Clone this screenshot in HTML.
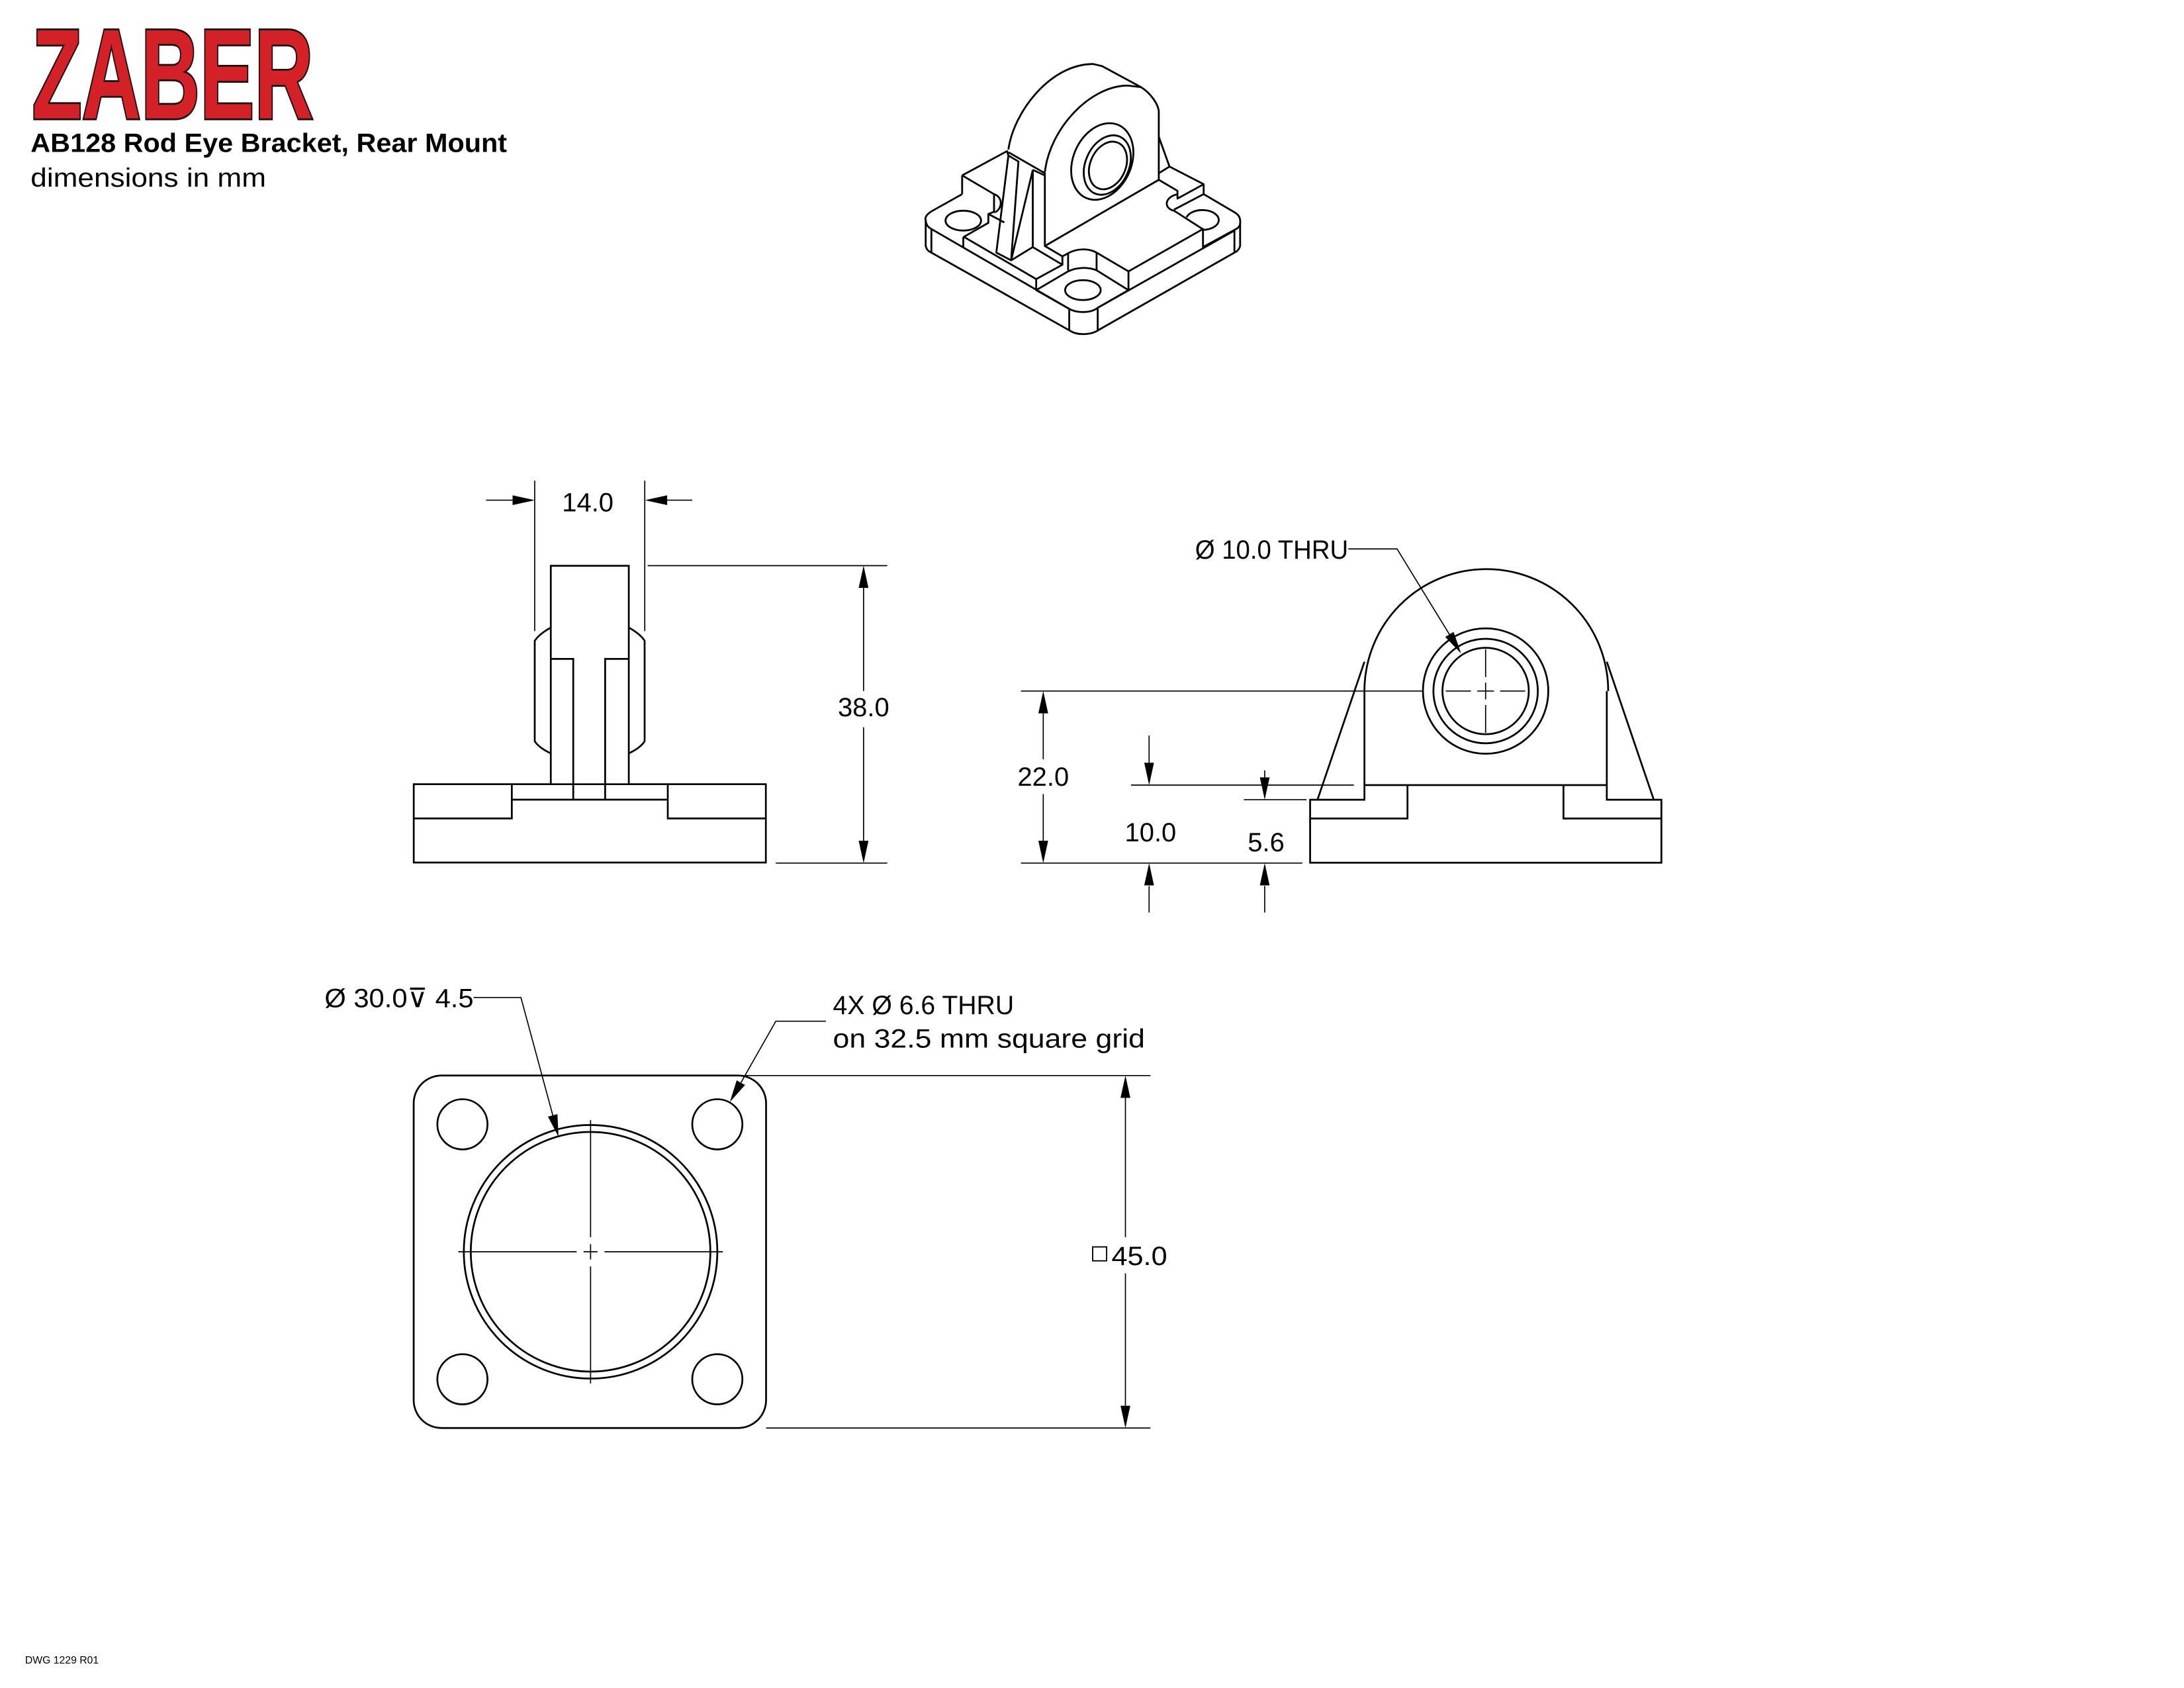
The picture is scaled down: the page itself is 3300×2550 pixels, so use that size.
<!DOCTYPE html>
<html><head><meta charset="utf-8"><style>
html,body{margin:0;padding:0;background:#fff;}
svg{display:block;}
text{font-family:"Liberation Sans",sans-serif;fill:#000;}
</style></head><body>
<svg xmlns="http://www.w3.org/2000/svg" width="3300" height="2550" viewBox="0 0 1568 1211.6">
<rect width="1568" height="1211.6" fill="#fff"/>
<!-- Logo & title -->
<text x="23" y="85" font-size="92" font-weight="bold" textLength="202" lengthAdjust="spacingAndGlyphs" style="fill:#d42027;stroke:#111;stroke-width:2.6;paint-order:stroke">ZABER</text>
<text x="22" y="109" font-size="19" font-weight="bold" textLength="342" lengthAdjust="spacingAndGlyphs">AB128 Rod Eye Bracket, Rear Mount</text>
<text x="22" y="134" font-size="19" textLength="169" lengthAdjust="spacingAndGlyphs">dimensions in mm</text>
<text x="18" y="1194" font-size="7.5">DWG 1229 R01</text>

<!-- Isometric view -->
<g transform="translate(655.6,28.5) scale(0.16359,0.15835)" fill="none" stroke="#000" stroke-width="2.8" stroke-linejoin="round">
<path vector-effect="non-scaling-stroke" d="M418,498 C440,330 600,110 790,110 L830,120 L1000,215 C1040,240 1075,290 1078,325 L1078,635"/>
<path vector-effect="non-scaling-stroke" d="M578,600 C600,400 780,205 945,208 L1000,215"/>
<path vector-effect="non-scaling-stroke" d="M418,510 L578,605 L578,935 L1078,635"/>
<path vector-effect="non-scaling-stroke" d="M1078,440 L1125,575 L1078,605"/>
<path vector-effect="non-scaling-stroke" d="M1078,635 L1160,685 L1160,720 L1275,655 L1125,575"/>
<path vector-effect="non-scaling-stroke" d="M1275,655 L1275,700 L1145,770 M1160,700 C1100,715 1100,765 1145,775 L1270,858"/>
<path vector-effect="non-scaling-stroke" d="M1275,700 L1410,782 C1432,795 1437,810 1435,835 C1432,850 1422,856 1410,862 L1272,940 L1272,858 L945,1050"/>
<path vector-effect="non-scaling-stroke" d="M1200,805 A72,45 0 1 1 1275,862"/>
<path vector-effect="non-scaling-stroke" d="M1435,835 L1435,935 C1430,952 1422,960 1410,965 L815,1315 C780,1340 720,1340 690,1320 L80,965 C68,960 58,950 55,935 L55,815"/>
<path vector-effect="non-scaling-stroke" d="M1410,862 L1410,965 M810,1215 L1410,865"/>
<path vector-effect="non-scaling-stroke" d="M685,1220 C720,1240 780,1240 810,1215 M685,1220 L685,1318 M810,1215 L810,1315"/>
<path vector-effect="non-scaling-stroke" d="M215,700 L85,775 C60,790 50,805 55,820 C58,840 65,850 80,858 L685,1220 M80,858 L80,965"/>
<path vector-effect="non-scaling-stroke" d="M220,895 L220,942 M220,895 L330,830 L330,790 L400,828 M225,895 L540,1085"/>
<ellipse vector-effect="non-scaling-stroke" cx="220" cy="820" rx="78" ry="45"/>
<path vector-effect="non-scaling-stroke" d="M215,615 L215,700 M215,615 L412,505 L418,525 M215,615 L355,700 L355,785 M355,700 C392,712 395,762 360,782 M330,790 L355,780"/>
<path vector-effect="non-scaling-stroke" d="M418,525 L462,552 L430,1000 L365,965 Z"/>
<path vector-effect="non-scaling-stroke" d="M525,590 L430,1000 M525,590 L525,940 L430,1000 M525,590 L578,615 M525,940 L655,1020 M578,935 L655,982"/>
<path vector-effect="non-scaling-stroke" d="M540,1085 L655,1020 L655,982 L680,968 C720,945 770,945 805,965 L945,1050 L945,1135 L810,1215 M680,968 L680,1045 M805,965 L805,1045"/>
<path vector-effect="non-scaling-stroke" d="M540,1085 L540,1135 L680,1050 C720,1030 770,1030 805,1045 L945,1135 M540,1135 L685,1220"/>
<ellipse vector-effect="non-scaling-stroke" cx="745" cy="1135" rx="78" ry="45"/>
<ellipse vector-effect="non-scaling-stroke" cx="830" cy="552" rx="128" ry="180" transform="rotate(22 830 552)"/>
<ellipse vector-effect="non-scaling-stroke" cx="852" cy="568" rx="96" ry="140" transform="rotate(22 852 568)"/>
<ellipse vector-effect="non-scaling-stroke" cx="855" cy="570" rx="78" ry="112" transform="rotate(22 855 570)"/>
</g>

<!-- Side view -->
<g transform="translate(294.5,399) scale(0.16966,0.15835)" fill="none" stroke="#000" stroke-width="2.7">
<path vector-effect="non-scaling-stroke" d="M595,1035 L595,45 L925,45 L925,1035"/>
<path vector-effect="non-scaling-stroke" d="M595,325 Q545,355 527,385 L527,840 Q545,870 595,895 M925,325 Q975,355 992,385 L992,840 Q975,870 925,895"/>
<path vector-effect="non-scaling-stroke" d="M595,467 L690,467 L690,1105 M925,467 L825,467 L825,1105"/>
<path vector-effect="non-scaling-stroke" d="M15,1035 L595,1035 M925,1035 L1505,1035 M430,1035 L430,1190 L15,1190 M430,1105 L1090,1105 M1090,1035 L1090,1190 L1505,1190"/>
<rect vector-effect="non-scaling-stroke" x="15" y="1035" width="1490" height="355"/>
</g>

<!-- Front view -->
<g fill="none" stroke="#000" stroke-width="1.3">
<path d="M979.6,496 A87.5,87.5 0 0 1 1154.6,496"/>
<path d="M979.6,496 L979.6,574 L940.6,574 L940.6,619.2 L1192.8,619.2 L1192.8,574 L1153.6,574 L1153.6,496"/>
<path d="M979.6,563.5 L1153.6,563.5 M1010.5,563.5 L1010.5,587.5 L940.6,587.5 M1122.5,563.5 L1122.5,587.5 L1192.8,587.5"/>
<path d="M979.6,475 L945.9,574 M1153.6,475 L1187.3,574"/>
<circle cx="1066.6" cy="496" r="45"/>
<circle cx="1066.6" cy="496" r="37.5"/>
<circle cx="1066.6" cy="496" r="31"/>
</g>
<g stroke="#000" stroke-width="0.8" fill="none">
<path d="M1060.6,496 L1072.6,496 M1066.6,490 L1066.6,502 M1038,496 L1056,496 M1077,496 L1095,496 M1066.6,466 L1066.6,486 M1066.6,506 L1066.6,526"/>
</g>

<!-- Top view -->
<g fill="none" stroke="#000" stroke-width="1.3">
<rect x="297" y="772" width="253" height="253" rx="20"/>
<circle cx="332" cy="807" r="18"/>
<circle cx="515" cy="807" r="18"/>
<circle cx="332" cy="990" r="18"/>
<circle cx="515" cy="990" r="18"/>
<circle cx="424" cy="898.5" r="91"/>
<circle cx="424" cy="898.5" r="86"/>
</g>
<g stroke="#000" stroke-width="0.8" fill="none">
<path d="M329,898.5 L414,898.5 M419,898.5 L429,898.5 M434,898.5 L519,898.5 M424,804 L424,888 M424,893 L424,904 M424,909 L424,993"/>
</g>

<!-- Dimension lines -->
<g stroke="#000" stroke-width="0.8" fill="none">
<path d="M383.9,345 L383.9,453 M462.9,345 L462.9,453 M349,359 L368,359 M479,359 L497,359"/>
<path d="M465,406 L637,406 M557,619.5 L637,619.5 M620,422 L620,496 M620,522 L620,604"/>
<path d="M733,496 L1022,496 M749,512 L749,545 M749,570 L749,604 M733,619.5 L935,619.5"/>
<path d="M812,563.5 L972,563.5 M825,528 L825,547.5 M825,636 L825,655"/>
<path d="M893,574 L938,574 M908,553 L908,558 M908,636 L908,655"/>
<path d="M968,394 L1003,394 L1041,456"/>
<path d="M340,716 L374,716 L397,801"/>
<path d="M593,733 L557,733 L532,777"/>
<path d="M530,772 L826,772 M550,1025 L826,1025 M808,788 L808,888 M808,914 L808,1009"/>
</g>
<g fill="#000" stroke="none">
<polygon points="384,359 368,355.5 368,362.5"/>
<polygon points="463,359 479,355.5 479,362.5"/>
<polygon points="620,406 616.5,422 623.5,422"/>
<polygon points="620,619.5 616.5,603.5 623.5,603.5"/>
<polygon points="749,496 745.5,512 752.5,512"/>
<polygon points="749,619.5 745.5,603.5 752.5,603.5"/>
<polygon points="825,563.5 821.5,547.5 828.5,547.5"/>
<polygon points="825,619.5 821.5,635.5 828.5,635.5"/>
<polygon points="908,574 904.5,558 911.5,558"/>
<polygon points="908,619.5 904.5,635.5 911.5,635.5"/>
<polygon points="1049,469 1037.6,457.2 1043.6,453.6"/>
<polygon points="401,816 393.4,801.5 400.2,799.7"/>
<polygon points="524,791 528.9,775.4 534.9,778.8"/>
<polygon points="808,772 804.5,788 811.5,788"/>
<polygon points="808,1025 804.5,1009 811.5,1009"/>
</g>

<!-- Dimension text -->
<g font-size="19">
<text x="422" y="367" text-anchor="middle">14.0</text>
<text x="620" y="514" text-anchor="middle">38.0</text>
<text x="749" y="564" text-anchor="middle">22.0</text>
<text x="826" y="604" text-anchor="middle">10.0</text>
<text x="909" y="611" text-anchor="middle">5.6</text>
<text x="858" y="401" textLength="110" lengthAdjust="spacingAndGlyphs">Ø 10.0 THRU</text>
<text x="233" y="723" textLength="107" lengthAdjust="spacingAndGlyphs">Ø 30.0⊽ 4.5</text>
<text x="598" y="728" textLength="130" lengthAdjust="spacingAndGlyphs">4X  Ø 6.6 THRU</text>
<text x="598" y="752" textLength="224" lengthAdjust="spacingAndGlyphs">on 32.5 mm square grid</text>
<text x="798" y="908" textLength="40" lengthAdjust="spacingAndGlyphs">45.0</text>
</g>
<rect x="784.5" y="895" width="10" height="10" fill="none" stroke="#000" stroke-width="0.9"/>
</svg>
</body></html>
